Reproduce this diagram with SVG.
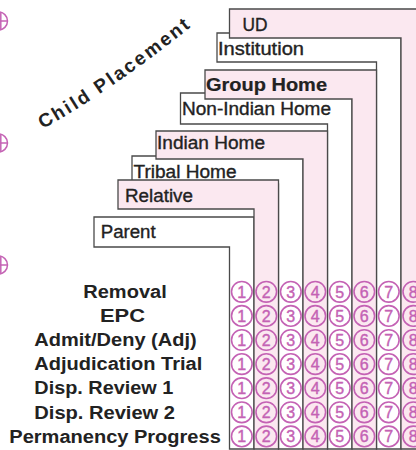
<svg xmlns="http://www.w3.org/2000/svg" width="416" height="450" viewBox="0 0 416 450">
<style>
.w{fill:#ffffff;stroke:#4a4a4a;stroke-width:1.3}
.p{fill:#fbe8f0;stroke:#4a4a4a;stroke-width:1.3}
.lb{font-family:"Liberation Sans",Arial,sans-serif;font-size:17.5px;fill:#222;stroke:#222;stroke-width:0.35}
.bd{font-weight:bold;stroke-width:0.2}
.rl{font-family:"Liberation Sans",Arial,sans-serif;font-size:17.5px;font-weight:bold;fill:#222}
.bub circle{fill:none;stroke:#c462b4;stroke-width:1.6}
.bub text{font-family:"Liberation Sans",Arial,sans-serif;font-size:16px;fill:#c462b4;stroke:#c462b4;stroke-width:0.4;text-anchor:middle}
.mk{fill:none;stroke:#c462b4;stroke-width:1.5}
</style>
<rect width="416" height="450" fill="#ffffff"/>
<g id="marks">
<g class="mk"><circle cx="-1.5" cy="21" r="9"/><line x1="-1.5" y1="21" x2="7.5" y2="21"/><line x1="0.8" y1="12.5" x2="0.8" y2="29.5"/></g>
<g class="mk"><circle cx="-1.5" cy="143" r="9"/><line x1="-1.5" y1="143" x2="7.5" y2="143"/><line x1="0.8" y1="134.5" x2="0.8" y2="151.5"/></g>
<g class="mk"><circle cx="-1.5" cy="265" r="9"/><line x1="-1.5" y1="265" x2="7.5" y2="265"/><line x1="0.8" y1="256.5" x2="0.8" y2="273.5"/></g>
</g>
<defs><path id="arc" d="M43,129 Q116,88 202,18"/></defs>
<text id="title" font-family="'Liberation Sans',Arial,sans-serif" font-size="19" font-weight="bold" fill="#222"><textPath href="#arc" textLength="180" lengthAdjust="spacing">Child Placement</textPath></text>
<g id="parent"><polygon class="w" points="94,217 254,217 254,449 229.5,449 229.5,247 94,247"/><text class="lb" x="100.7" y="238" textLength="55" lengthAdjust="spacingAndGlyphs">Parent</text></g>
<g id="tribal"><polygon class="w" points="132,156 303,156 303,449 278.5,449 278.5,184 132,184"/><text class="lb" x="133.5" y="177.5" textLength="103" lengthAdjust="spacingAndGlyphs">Tribal Home</text></g>
<g id="nonindian"><polygon class="w" points="180.5,93 352,93 352,449 327.5,449 327.5,124 180.5,124"/><text class="lb" x="182" y="115" textLength="149" lengthAdjust="spacingAndGlyphs">Non-Indian Home</text></g>
<g id="institution"><polygon class="w" points="217,33 401,33 401,449 376.5,449 376.5,62 217,62"/><text class="lb" x="218" y="55" textLength="86" lengthAdjust="spacingAndGlyphs">Institution</text></g>
<g id="relative"><polygon class="p" points="118,180 278.5,180 278.5,449 254,449 254,209 118,209"/><text class="lb" x="125" y="201.5" textLength="68" lengthAdjust="spacingAndGlyphs">Relative</text></g>
<g id="indian"><polygon class="p" points="156,131 327.5,131 327.5,449 303,449 303,159 156,159"/><text class="lb" x="157" y="149" textLength="108" lengthAdjust="spacingAndGlyphs">Indian Home</text></g>
<g id="group"><polygon class="p" points="205,70 376.5,70 376.5,449 352,449 352,99 205,99"/><text class="lb bd" x="206" y="90.5" font-size="19" textLength="121" lengthAdjust="spacingAndGlyphs">Group Home</text></g>
<g id="ud"><polygon class="p" points="229.5,9 428,9 428,449 401,449 401,38 229.5,38"/><text class="lb" x="242.5" y="30.5" font-size="18" textLength="25" lengthAdjust="spacingAndGlyphs">UD</text></g>
<g id="rows">
<text class="rl" x="83.3" y="297.5" textLength="83.4" lengthAdjust="spacingAndGlyphs">Removal</text>
<text class="rl" x="100" y="321.7" textLength="45" lengthAdjust="spacingAndGlyphs">EPC</text>
<text class="rl" x="34.3" y="345.9" textLength="162.4" lengthAdjust="spacingAndGlyphs">Admit/Deny (Adj)</text>
<text class="rl" x="34.3" y="370.1" textLength="168" lengthAdjust="spacingAndGlyphs">Adjudication Trial</text>
<text class="rl" x="34.3" y="394.3" textLength="139" lengthAdjust="spacingAndGlyphs">Disp. Review 1</text>
<text class="rl" x="34.3" y="418.5" textLength="140.7" lengthAdjust="spacingAndGlyphs">Disp. Review 2</text>
<text class="rl" x="9.3" y="442.7" textLength="211.5" lengthAdjust="spacingAndGlyphs">Permanency Progress</text>
</g>
<g id="bubbles" class="bub">
<defs>
<g id="brow">
<circle cx="241.8" cy="0" r="10.3"/><text x="241.8" y="5.8">1</text>
<circle cx="266.3" cy="0" r="10.3"/><text x="266.3" y="5.8">2</text>
<circle cx="290.8" cy="0" r="10.3"/><text x="290.8" y="5.8">3</text>
<circle cx="315.3" cy="0" r="10.3"/><text x="315.3" y="5.8">4</text>
<circle cx="339.8" cy="0" r="10.3"/><text x="339.8" y="5.8">5</text>
<circle cx="364.3" cy="0" r="10.3"/><text x="364.3" y="5.8">6</text>
<circle cx="388.8" cy="0" r="10.3"/><text x="388.8" y="5.8">7</text>
<circle cx="413.3" cy="0" r="10.3"/><text x="413.3" y="5.8">8</text>
</g>
</defs>
<use href="#brow" y="291.8"/>
<use href="#brow" y="315.9"/>
<use href="#brow" y="340"/>
<use href="#brow" y="364.1"/>
<use href="#brow" y="388.2"/>
<use href="#brow" y="412.3"/>
<use href="#brow" y="436.4"/>
</g>
</svg>
